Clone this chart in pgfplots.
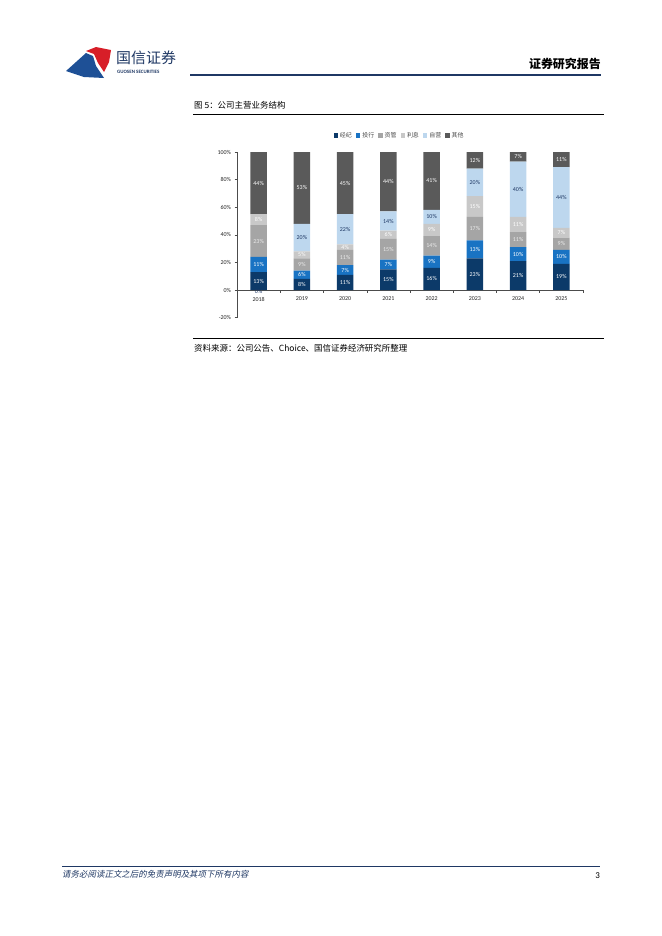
\documentclass[border=0pt]{standalone}
\usepackage{fontspec}
\usepackage{pgfplots}
\pgfplotsset{compat=1.18}
\setmainfont{Carlito}
\newfontfamily\cjk{Noto Sans CJK SC}
\newfontfamily\cjkit{Noto Sans CJK SC}[FakeSlant=0.2]

\definecolor{cjj}{RGB}{12,58,105}
\definecolor{ctx}{RGB}{25,115,195}
\definecolor{czg}{RGB}{165,165,165}
\definecolor{clx}{RGB}{200,200,200}
\definecolor{czy}{RGB}{189,215,238}
\definecolor{cqt}{RGB}{90,90,90}
\definecolor{navy}{RGB}{31,56,100}
\definecolor{logored}{RGB}{215,30,40}
\definecolor{logoblue}{RGB}{30,80,150}

\begin{document}
\begin{tikzpicture}
\path[use as bounding box] (0,0) rectangle (662bp,-936bp);

% header
\fill[logoblue] (66bp,-71bp) -- (86bp,-53bp) -- (93bp,-56bp) -- (96bp,-66bp) -- (104bp,-78bp) -- (84bp,-77bp) -- cycle;
\fill[logored] (86bp,-51bp) -- (96bp,-47bp) -- (111bp,-50bp) -- (109bp,-62bp) -- (104bp,-72bp) -- (98bp,-63bp) -- (94bp,-54bp) -- cycle;
\node[anchor=west, inner sep=0, text=navy, font=\cjk\fontsize{15}{15}\selectfont] at (116bp,-58bp) {国信证券};
\node[anchor=west, inner sep=0, text=navy, font=\fontsize{5}{5}\selectfont\bfseries] at (117bp,-71.5bp) {GUOSEN SECURITIES};
\draw[navy, line width=2bp] (190bp,-74.5bp) -- (601bp,-74.5bp);
\node[anchor=base east, inner sep=0, font=\cjk\fontsize{12}{12}\selectfont\bfseries] at (601bp,-68bp) {证券研究报告};

% title
\node[anchor=base west, inner sep=0, font=\cjk\fontsize{8.5}{8.5}\selectfont] at (194bp,-108bp) {图 5：公司主营业务结构};
\draw[black, line width=0.8bp] (193bp,-114bp) -- (604bp,-114bp);

% bars
\begin{axis}[
  at={(237bp,-317.6bp)}, anchor=south west,
  scale only axis, width=346bp, height=165.6bp,
  xmin=-0.5, xmax=7.5, ymin=-20, ymax=100,
  ybar stacked, bar width=16.3bp,
  axis y line*=left, axis x line*=middle,
  axis line style={gray!60!black, line width=0.6bp},
  hide obscured x ticks=false, hide obscured y ticks=false,
  ytick={-20,0,20,40,60,80,100},
  yticklabel={\pgfmathprintnumber{\tick}\%},
  /pgf/number format/assume math mode=true,
  xtick={0,...,7},
  xticklabels={2018,2019,2020,2021,2022,2023,2024,2025},
  minor xtick={0.5,1.5,...,7.5},
  major x tick style={draw=none},
  tick align=outside,
  major tick length=2.5bp, minor tick length=2.5bp,
  tick style={gray!60!black, line width=0.5bp},
  ticklabel style={font=\fontsize{6}{6}\selectfont, text=black!85},
  xticklabel style={yshift=-1bp},
  legend columns=6,
  legend style={draw=none, at={(0.47,1.1)}, anchor=center,
    font=\cjk\fontsize{6}{6}\selectfont, text=black!70,
    /tikz/every even column/.append style={column sep=2bp}},
  legend image code/.code={\fill[#1] (0bp,-2.2bp) rectangle (4.4bp,2.2bp);},
]
\addplot[fill=cjj, draw=none] coordinates {(0,13) (1,8) (2,11) (3,15) (4,16) (5,23) (6,21) (7,19)};
\addplot[fill=ctx, draw=none] coordinates {(0,11) (1,6) (2,7) (3,7) (4,9) (5,13) (6,10) (7,10)};
\addplot[fill=czg, draw=none] coordinates {(0,23) (1,9) (2,11) (3,15) (4,14) (5,17) (6,11) (7,9)};
\addplot[fill=clx, draw=none] coordinates {(0,8) (1,5) (2,4) (3,6) (4,9) (5,15) (6,11) (7,7)};
\addplot[fill=czy, draw=none] coordinates {(0,0) (1,20) (2,22) (3,14) (4,10) (5,20) (6,40) (7,44)};
\addplot[fill=cqt, draw=none] coordinates {(0,45) (1,53) (2,45) (3,44) (4,42) (5,12) (6,7) (7,11)};
\legend{经纪,投行,资管,利息,自营,其他}
\end{axis}

% value labels
\begin{axis}[
  at={(237bp,-317.6bp)}, anchor=south west,
  scale only axis, width=346bp, height=165.6bp,
  xmin=-0.5, xmax=7.5, ymin=-20, ymax=100,
  hide axis, clip=false,
  every axis plot/.append style={only marks, mark=*, mark size=0pt,
    mark options={draw=none, fill=none},
    nodes near coords={\pgfplotspointmeta\%}, nodes near coords align=center,
    point meta=explicit symbolic},
  nodes near coords style={font=\fontsize{6}{6}\selectfont, inner sep=0},
]
\addplot[nodes near coords style={text=white}] table[meta=l] {
x y l
0 6.5 13
1 4 8
2 5.5 11
3 7.5 15
4 8 16
5 11.5 23
6 10.5 21
7 9.5 19
};
\addplot[nodes near coords style={text=white}] table[meta=l] {
x y l
0 18.5 11
1 11 6
2 14.5 7
3 18.5 7
4 20.5 9
5 29.5 13
6 26 10
7 24 10
};
\addplot[nodes near coords style={text=white!92!black}] table[meta=l] {
x y l
0 35.5 23
1 18.5 9
2 23.5 11
3 29.5 15
4 32 14
5 44.5 17
6 36.5 11
7 33.5 9
};
\addplot[nodes near coords style={text=white}] table[meta=l] {
x y l
0 51 8
1 25.5 5
2 31 4
3 40 6
4 43.5 9
5 60.5 15
6 47.5 11
7 41.5 7
};
\addplot[nodes near coords style={text=navy}] table[meta=l] {
x y l
0 -0.8 0
1 38 20
2 44 22
3 50 14
4 53 10
5 78 20
6 73 40
7 67 44
};
\addplot[nodes near coords style={text=white}] table[meta=l] {
x y l
0 77.5 44
1 74 53
2 77.5 45
3 78.5 44
4 79 41
5 94 12
6 96.5 7
7 94.5 11
};
\end{axis}

% source
\draw[black, line width=0.8bp] (193bp,-338.5bp) -- (604bp,-338.5bp);
\node[anchor=base west, inner sep=0, font=\cjk\fontsize{8.5}{8.5}\selectfont] at (194bp,-351bp) {资料来源：公司公告、Choice、国信证券经济研究所整理};

% footer
\draw[navy, line width=1bp] (62bp,-866bp) -- (600bp,-866bp);
\node[anchor=base west, inner sep=0, text=navy, font=\cjkit\fontsize{8.5}{8.5}\selectfont] at (62bp,-877bp) {请务必阅读正文之后的免责声明及其项下所有内容};
\node[anchor=base east, inner sep=0, font=\fontsize{9}{9}\selectfont] at (600bp,-878bp) {3};
\end{tikzpicture}
\end{document}
